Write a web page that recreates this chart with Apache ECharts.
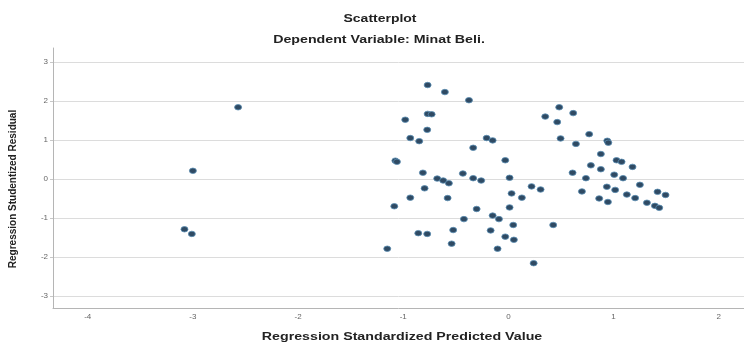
<!DOCTYPE html>
<html>
<head>
<meta charset="utf-8">
<script src="https://cdn.jsdelivr.net/npm/echarts@6/dist/echarts.min.js"></script>
<style>
html,body{margin:0;padding:0;background:#fff;}
#chart{width:744px;height:344px;}
</style>
</head>
<body>
<div id="chart"></div>
<script>
var chartTitle = 'Scatterplot';
var chartSubtitle = 'Dependent Variable: Minat Beli.';
var xAxisTitle = 'Regression Standardized Predicted Value';
var yAxisTitle = 'Regression Studentized Residual';

var predictedValues = [
  -2.57, -3.00, -3.08, -3.01,
  -0.768, -0.604, -0.375, 0.35, -0.981, -0.768, -0.73, -0.772, -0.933, -0.848,
  -0.207, -0.150, -0.335, -1.075, -1.06, -0.03, -0.813, -0.433, 0.011, -0.677,
  -0.62, -0.566, -0.335, -0.259, -0.797, -0.933, -0.578, 0.03, 0.22, 0.306,
  0.128, -1.085, -0.302, 0.011, -0.423, -0.15, -0.09, 0.046, -0.525, -0.169,
  -0.857, -0.772, -0.03, 0.052, -0.54, -1.152, -0.103, 0.24,
  0.483, 0.616, 0.464, 0.496, 0.642, 0.768, 0.94, 0.95, 0.879, 1.028, 1.076,
  1.18, 0.784, 0.879, 0.61, 1.006, 1.09, 0.737, 0.699, 0.936, 1.015, 1.25,
  1.126, 1.205, 0.863, 0.946, 1.418, 1.494, 1.317, 1.393, 1.434, 0.426
];
var residualValues = [
  1.84, 0.21, -1.29, -1.41,
  2.41, 2.23, 2.02, 1.60, 1.52, 1.67, 1.66, 1.26, 1.05, 0.97,
  1.05, 0.99, 0.80, 0.47, 0.44, 0.48, 0.16, 0.14, 0.03, 0.01,
  -0.04, -0.11, 0.02, -0.04, -0.24, -0.48, -0.49, -0.37, -0.19, -0.27,
  -0.48, -0.70, -0.77, -0.73, -1.03, -0.94, -1.03, -1.18, -1.31, -1.32,
  -1.39, -1.41, -1.48, -1.56, -1.66, -1.79, -1.79, -2.16,
  1.84, 1.69, 1.46, 1.04, 0.90, 1.15, 0.98, 0.93, 0.64, 0.48, 0.44,
  0.31, 0.35, 0.25, 0.16, 0.11, 0.02, 0.02, -0.32, -0.20, -0.28, -0.15,
  -0.40, -0.49, -0.50, -0.59, -0.33, -0.41, -0.61, -0.69, -0.74, -1.18
];

var points = predictedValues.map(function (x, i) { return [x, residualValues[i]]; });

var chart = echarts.init(document.getElementById('chart'), null, {renderer: 'canvas'});
var stretch = 1.33;
chart.setOption({
  animation: false,
  backgroundColor: '#ffffff',
  grid: {left: 53, top: 48, right: 0, bottom: 36, containLabel: false, outerBoundsMode: 'none'},
  graphic: [
    {type: 'text', x: 380, y: 19, scaleX: stretch, scaleY: 1, silent: true,
      style: {text: chartTitle, font: 'bold 10.5px "Liberation Sans", Arial, sans-serif', fill: '#222',
        align: 'center', verticalAlign: 'middle', textAlign: 'center', textVerticalAlign: 'middle'}},
    {type: 'text', x: 379, y: 40, scaleX: stretch, scaleY: 1, silent: true,
      style: {text: chartSubtitle, font: 'bold 10.7px "Liberation Sans", Arial, sans-serif', fill: '#222',
        align: 'center', verticalAlign: 'middle', textAlign: 'center', textVerticalAlign: 'middle'}},
    {type: 'text', x: 402, y: 337, scaleX: stretch, scaleY: 1, silent: true,
      style: {text: xAxisTitle, font: 'bold 10.7px "Liberation Sans", Arial, sans-serif', fill: '#222',
        align: 'center', verticalAlign: 'middle', textAlign: 'center', textVerticalAlign: 'middle'}}
  ],
  xAxis: {
    type: 'value',
    min: -4.33,
    max: 2.24,
    axisLine: {show: true, onZero: false, lineStyle: {color: '#b5b5b5', width: 1}},
    axisTick: {show: false},
    splitLine: {show: false},
    axisLabel: {show: true, showMinLabel: false, showMaxLabel: false, margin: 5,
      color: '#666', fontSize: 8, fontFamily: '"Liberation Sans", Arial, sans-serif'}
  },
  yAxis: {
    type: 'value',
    min: -3.31,
    max: 3.36,
    name: yAxisTitle,
    nameLocation: 'middle',
    nameGap: 35,
    nameRotate: 90,
    nameTextStyle: {color: '#222', fontSize: 10, fontWeight: 'bold',
      fontFamily: '"Liberation Sans", Arial, sans-serif', padding: [0, 22, 0, 0]},
    axisLine: {show: true, onZero: false, lineStyle: {color: '#b5b5b5', width: 1}},
    axisTick: {show: true, length: 3, lineStyle: {color: '#c8c8c8'}},
    splitLine: {show: true, showMinLine: false, showMaxLine: false, lineStyle: {color: '#dcdcdc', width: 1}},
    axisLabel: {show: true, showMinLabel: false, showMaxLabel: false, margin: 5,
      color: '#666', fontSize: 8, fontFamily: '"Liberation Sans", Arial, sans-serif'}
  },
  series: [{
    type: 'scatter',
    data: points,
    symbol: 'circle',
    symbolSize: [7, 5.5],
    itemStyle: {color: '#2f4a63', borderColor: '#5a8cb2', borderWidth: 0.8, opacity: 1}
  }]
});
</script>
</body>
</html>
